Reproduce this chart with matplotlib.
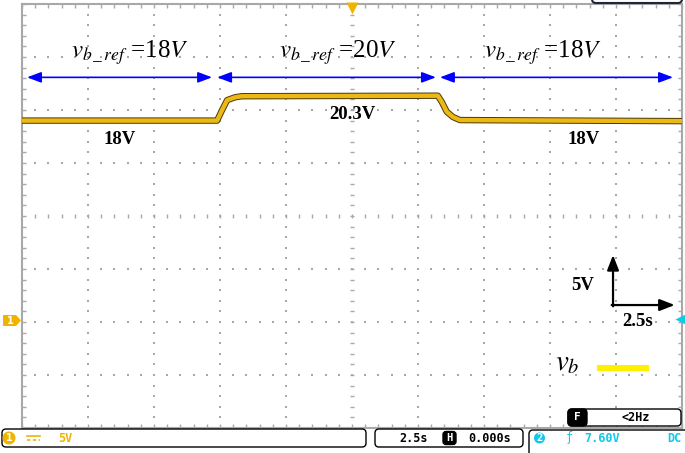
import numpy as np
import matplotlib.pyplot as plt
from matplotlib.patches import FancyBboxPatch, Circle, Polygon
from matplotlib.lines import Line2D
from matplotlib.transforms import Affine2D

plt.rcParams['mathtext.fontset'] = 'stix'

# traza v_b del osciloscopio (tiempo en s, tension en V)
t = [0.0, 7.39, 7.58, 7.77, 8.07, 8.33, 15.75, 15.90, 16.09, 16.33, 16.59, 25.0]
vb = [18.0, 18.0, 19.0, 19.93, 20.2, 20.3, 20.35, 19.77, 18.83, 18.33, 18.05, 17.95]

# tramos con su referencia
tramos_ini = [0.19, 7.39, 15.83]
tramos_fin = [7.20, 15.68, 24.66]
referencias = ['18', '20', '18']
medidos = ['18V', '20.3V', '18V']

# escala del osciloscopio
volt_div = 5.0
seg_div = 2.5

W, H = 685, 453
fig = plt.figure(figsize=(W / 100, H / 100), dpi=100)
ax = fig.add_axes([22 / W, (H - 428) / H, 660 / W, 424 / H])
ax.set_xlim(0, 10 * seg_div)
ax.set_ylim(-11, -11 + 8 * volt_div)

gris = '#a8a8a8'
ax.set_xticks(np.arange(0, 25.01, seg_div))
ax.set_xticks(np.arange(0, 25.01, seg_div / 5), minor=True)
ax.set_yticks(np.arange(-11, 29.01, volt_div))
ax.set_yticks(np.arange(-11, 29.01, volt_div / 5), minor=True)
ax.tick_params(which='both', direction='in', length=3, width=1, color=gris,
               top=True, right=True, labelbottom=False, labelleft=False)
for s in ax.spines.values():
    s.set_color(gris)
    s.set_linewidth(1.5)

# rejilla punteada
xc, yc = 12.5, 9.0
gx = [x for x in np.arange(2.5, 24.9, 2.5) if abs(x - xc) > 0.01]
gy = [y for y in np.arange(-6, 28.9, 5) if abs(y - yc) > 0.01]
mx = np.arange(0.5, 24.9, 0.5)
my = np.arange(-10, 28.9, 1)
X1, Y1 = np.meshgrid(gx, my)
X2, Y2 = np.meshgrid(mx, gy)
ax.scatter(X1.ravel(), Y1.ravel(), s=1.5, marker='s', color=gris, lw=0, zorder=1)
ax.scatter(X2.ravel(), Y2.ravel(), s=1.5, marker='s', color=gris, lw=0, zorder=1)
ax.scatter(np.full(len(my), xc), my, s=12, marker='_', color=gris, lw=1, zorder=1)
ax.scatter(mx, np.full(len(mx), yc), s=12, marker='|', color=gris, lw=1, zorder=1)

# traza
ax.plot(t, vb, color='#4a3806', lw=4.6, zorder=3)
ax.plot(t, vb, color='#ecb815', lw=3.2, zorder=4)

# flechas de referencia
y_flecha = 22.08
for a, b, r in zip(tramos_ini, tramos_fin, referencias):
    ax.annotate('', xy=(b, y_flecha), xytext=(a, y_flecha),
                arrowprops=dict(arrowstyle='<|-|>,head_length=0.85,head_width=0.32',
                                color='#0000ff', lw=1.2, shrinkA=0, shrinkB=0))
pos_ref = [4.09, 11.97, 19.73]
for x, r in zip(pos_ref, referencias):
    ax.text(x, 23.9, r'$v_{b\,\_\,ref}$ =' + r + '$V$', fontsize=18, ha='center',
            va='baseline', family='Liberation Serif')

pos_med = [(3.71, 16.26), (12.5, 18.53), (21.29, 16.26)]
for (x, y), m in zip(pos_med, medidos):
    ax.text(x, y, m, fontsize=13.5, fontweight='bold', ha='center', va='center',
            family='Liberation Serif')

# indicador de escala
x0, y0 = 0.8955, 0.290
ax.annotate('', xy=(x0, 0.408), xytext=(x0, y0 - 0.003), xycoords='axes fraction',
            arrowprops=dict(arrowstyle='-|>,head_length=0.9,head_width=0.35',
                            color='black', lw=1.6, shrinkA=0, shrinkB=0))
ax.annotate('', xy=(0.989, y0), xytext=(x0 - 0.002, y0), xycoords='axes fraction',
            arrowprops=dict(arrowstyle='-|>,head_length=0.9,head_width=0.35',
                            color='black', lw=1.6, shrinkA=0, shrinkB=0))
ax.text(0.85, 0.337, '5V', transform=ax.transAxes, fontsize=13.5, fontweight='bold',
        ha='center', va='center', family='Liberation Serif')
ax.text(0.933, 0.25, '2.5s', transform=ax.transAxes, fontsize=13.5, fontweight='bold',
        ha='center', va='center', family='Liberation Serif')

# leyenda v_b
ax.text(0.826, 0.156, r'$v_b$', transform=ax.transAxes, fontsize=21,
        ha='center', va='center')
ax.plot([0.871, 0.95], [0.1415, 0.1415], transform=ax.transAxes, color='#fff000',
        lw=4.4, solid_capstyle='butt')

# marcadores del osciloscopio
oro = '#f0b400'
cian = '#10c8e8'
ax.plot([0.5], [0.99], transform=ax.transAxes, marker='v', ms=9, color=oro,
        mec='none', clip_on=False, zorder=5)
ax.plot([0.999], [0.257], transform=ax.transAxes, marker='<', ms=8, color=cian,
        mec='none', clip_on=False, zorder=5)

# coordenadas en pixeles (origen arriba a la izquierda)
tr = Affine2D().scale(1 / W, -1 / H).translate(0, 1) + fig.transFigure

fig.add_artist(Polygon([(3, 315), (16, 315), (21, 320.5), (16, 326), (3, 326)],
                       closed=True, fc=oro, ec='none', transform=tr))
fig.text(10, 320.5, '1', transform=tr, color='white', fontsize=7, fontweight='bold',
         ha='center', va='center')

def caja(x, y, w, h, fc='white', ec='black', r=4, lw=1.0):
    fig.add_artist(FancyBboxPatch((x, y), w, h, boxstyle=f'round,pad=0,rounding_size={r}',
                                  fc=fc, ec=ec, lw=lw, transform=tr))

def texto(x, y, s, color='black', size=8.5, **kw):
    fig.text(x, y, s, transform=tr, color=color, fontsize=size, ha='center',
             va='center', family='DejaVu Sans Mono', **kw)

# barra de estado inferior
caja(2, 429, 364, 18)
caja(375, 429, 148, 18)
caja(529, 430, 170, 40)
caja(592, -20, 90, 23, ec='#1c2838', lw=1.5)
caja(568, 409, 113, 17)

fig.add_artist(Circle((9, 438), 6.5, fc=oro, ec='none', transform=tr))
texto(9, 438, '1', color='white', size=8, fontweight='bold')
fig.add_artist(Line2D([27, 40], [436, 436], color=oro, lw=1.2, transform=tr))
fig.add_artist(Line2D([27, 40], [439.5, 439.5], color=oro, lw=1.2, ls=(0, (2, 1.5)),
                      transform=tr))
texto(65, 438, '5V', color=oro, fontweight='bold')

texto(414, 438, '2.5s', fontweight='bold')
caja(443, 431.5, 13, 13, fc='black', r=3)
texto(449.5, 438, 'H', color='white', size=7.5, fontweight='bold')
texto(490, 438, '0.000s', fontweight='bold')

fig.add_artist(Circle((539.5, 438), 5.5, fc=cian, ec='none', transform=tr))
texto(539.5, 438, '2', color='white', size=7.5, fontweight='bold')
texto(569, 438, '\u0192', color=cian)
texto(602, 438, '7.60V', color=cian, fontweight='bold')
texto(674, 438, 'DC', color=cian, fontweight='bold')

caja(568, 409, 19, 17, fc='black', r=4)
texto(577.5, 417.5, 'F', color='white', size=8, fontweight='bold')
texto(636, 417.5, '<2Hz', fontweight='bold')

fig.savefig('out.png', dpi=100)
